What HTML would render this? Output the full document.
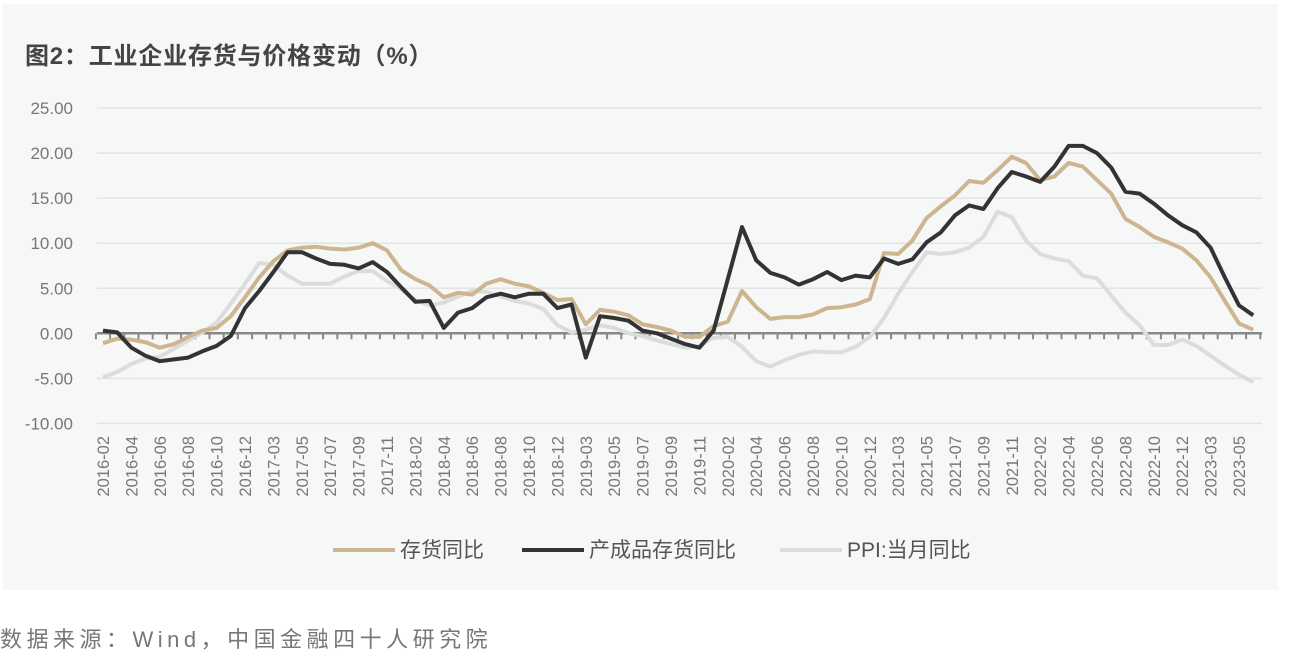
<!DOCTYPE html>
<html><head><meta charset="utf-8">
<style>
html,body{margin:0;padding:0;background:#fff;width:1290px;height:672px;overflow:hidden}
svg{display:block}
</style></head>
<body>
<svg id="chart" width="1290" height="672" xmlns="http://www.w3.org/2000/svg" font-family="'Liberation Sans','Noto Sans CJK SC',sans-serif">
<rect x="3" y="4" width="1275" height="586" fill="#f6f7f7"/>
<text x="25" y="64" font-size="24" font-weight="bold" fill="#444" letter-spacing="0.8">图2：工业企业存货与价格变动（%）</text>
<g id="grid"></g>
<g id="xlabels"></g>
<g id="series"></g>
<g>
<line x1="333" y1="550" x2="395" y2="550" stroke="#cdb68f" stroke-width="4"/>
<text x="400" y="557" font-size="21" fill="#555">存货同比</text>
<line x1="522" y1="550" x2="584" y2="550" stroke="#333" stroke-width="4"/>
<text x="589" y="557" font-size="21" fill="#555">产成品存货同比</text>
<line x1="780" y1="550" x2="842" y2="550" stroke="#dcdcdc" stroke-width="4"/>
<text x="847" y="557" font-size="21" fill="#555">PPI:当月同比</text>
</g>
<text x="0" y="647" font-size="22" fill="#777" letter-spacing="4.5">数据来源：Wind，中国金融四十人研究院</text>
</svg>
<script>
const yTicks=[25,20,15,10,5,0,-5,-10];
const inventory=[-1.1,-0.6,-0.7,-1.0,-1.6,-1.2,-0.4,0.3,0.6,1.9,4.0,6.2,8.0,9.2,9.5,9.6,9.4,9.3,9.5,10.0,9.2,7.0,6.0,5.3,4.0,4.5,4.3,5.5,6.0,5.5,5.2,4.5,3.7,3.8,1.0,2.6,2.4,2.0,1.0,0.7,0.3,-0.4,-0.4,0.8,1.3,4.7,2.9,1.6,1.8,1.8,2.1,2.8,2.9,3.2,3.8,8.9,8.8,10.3,12.8,14.1,15.3,16.9,16.7,18.1,19.6,18.9,17.0,17.4,18.9,18.5,17.0,15.5,12.7,11.8,10.7,10.1,9.4,8.1,6.2,3.6,1.1,0.4];
const finishedGoods=[0.3,0.1,-1.6,-2.5,-3.1,-2.9,-2.7,-2.0,-1.4,-0.3,2.8,4.7,6.8,9.0,9.0,8.3,7.7,7.6,7.2,7.9,6.8,5.1,3.5,3.6,0.6,2.3,2.8,4.0,4.4,4.0,4.4,4.4,2.8,3.2,-2.7,1.9,1.7,1.4,0.3,0.0,-0.6,-1.2,-1.6,0.3,6.0,11.8,8.1,6.7,6.2,5.4,6.0,6.8,5.9,6.4,6.2,8.3,7.7,8.2,10.1,11.2,13.1,14.2,13.8,16.1,17.9,17.4,16.8,18.5,20.8,20.8,20.0,18.4,15.7,15.5,14.4,13.1,12.0,11.2,9.5,6.2,3.1,2.0];
const ppi=[-4.9,-4.3,-3.4,-2.8,-2.6,-1.7,-0.8,0.1,1.2,3.3,5.5,7.8,7.6,6.4,5.5,5.5,5.5,6.3,6.9,6.9,5.8,4.9,3.7,3.1,3.4,4.1,4.7,4.6,4.1,3.6,3.3,2.7,0.9,0.1,0.4,0.9,0.6,0.0,-0.3,-0.8,-1.2,-1.6,-1.4,-0.5,-0.4,-1.5,-3.1,-3.7,-3.0,-2.4,-2.0,-2.1,-2.1,-1.5,-0.4,1.7,4.4,6.8,9.0,8.8,9.0,9.5,10.7,13.5,12.9,10.3,8.8,8.3,8.0,6.4,6.1,4.2,2.3,0.9,-1.3,-1.3,-0.7,-1.4,-2.5,-3.6,-4.6,-5.4];
const years=[2016,2017,2018,2019,2020,2021,2022,2023];
const categories=[];
years.forEach(y=>{const last=y===2023?6:12;for(let m=2;m<=last;m++)categories.push(y+'-'+String(m).padStart(2,'0'));});

const NS='http://www.w3.org/2000/svg';
const X0=103,STEP=14.2;
function xs(i){return X0+i*STEP;}
function ys(v){return 333.3-9.01*v;}
function mk(tag,attrs,parent){const e=document.createElementNS(NS,tag);for(const k in attrs)e.setAttribute(k,attrs[k]);parent.appendChild(e);return e;}
const grid=document.getElementById('grid');
yTicks.forEach(t=>{
  if(t!==0){const g=mk('line',{x1:97,x2:1262,y1:ys(t),y2:ys(t),stroke:'#e3e4e4','stroke-width':1.5},grid);
  
  }
  const l=mk('text',{x:73,y:ys(t)+6,'text-anchor':'end','font-size':17,fill:'#777'},grid);
  l.textContent=t.toFixed(2);
  
  
});
const ser=document.getElementById('series');
const zl=mk('line',{x1:97,x2:1262,y1:ys(0),y2:ys(0),stroke:'#888','stroke-width':2.5},ser);


for(let i=0;i<=categories.length;i++){
  const x=xs(i)-STEP/2;
  const t=mk('line',{x1:x,x2:x,y1:ys(0),y2:ys(0)+6,stroke:'#888','stroke-width':2},ser);
  
  
}
const xl=document.getElementById('xlabels');
categories.forEach((c,i)=>{
  if(i%2)return;
  const x=xs(i)+6,y=436;
  const t=mk('text',{x:x,y:y,'text-anchor':'end','font-size':16.5,fill:'#777',transform:'rotate(-90 '+x+' '+y+')'},xl);
  t.textContent=c;
  
  
});
function line(data,color,name){
  const d=data.map((v,i)=>(i?'L':'M')+xs(i).toFixed(1)+' '+ys(v).toFixed(1)).join(' ');
  const p=mk('path',{d:d,fill:'none',stroke:color,'stroke-width':4,'stroke-linejoin':'round'},ser);
  
  
}
line(ppi,'#dcdcdc','ppi-line');
line(inventory,'#cdb68f','inventory-line');
line(finishedGoods,'#333','finished-goods-line');
</script>
</body></html>
